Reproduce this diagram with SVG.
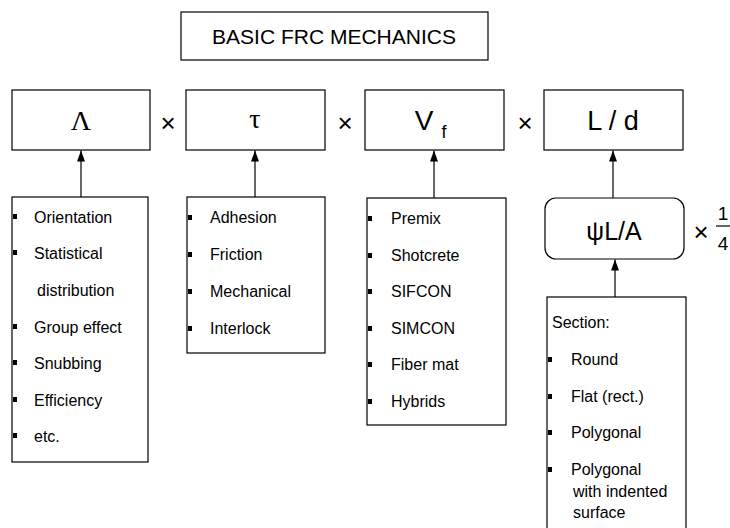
<svg xmlns="http://www.w3.org/2000/svg" width="730" height="528" viewBox="0 0 730 528">
<defs>
<marker id="ah" markerWidth="11" markerHeight="8" refX="11" refY="4" orient="auto" markerUnits="userSpaceOnUse" viewBox="0 0 11 8">
<path d="M0,0 L11,4 L0,8 Z" fill="#000"/>
</marker>
<style>
.box{fill:#fff;stroke:#000;stroke-width:1.2}
.t{font-family:"Liberation Sans",Arial,sans-serif;fill:#000}
.li{font-size:16px}
.big{font-size:27px;text-anchor:middle}
.ser{font-family:"Liberation Serif","Times New Roman",serif;font-size:28px;text-anchor:middle;fill:#000}
.x{font-size:26px;text-anchor:middle}
.b{fill:#000}
.c{stroke:#000;stroke-width:1.2;fill:none}
</style>
</defs>
<rect width="730" height="528" fill="#fff"/>

<g id="title">
<rect class="box" x="181" y="12" width="307" height="48"/>
<text class="t" x="334" y="44" font-size="21" text-anchor="middle">BASIC FRC MECHANICS</text>
</g>

<g id="lambda">
<rect class="box" x="12" y="90" width="138" height="60"/>
<text class="ser" x="81" y="130">Λ</text>
</g>
<g id="tau">
<rect class="box" x="186" y="90" width="139" height="60"/>
<text class="ser" x="255" y="128">τ</text>
</g>
<g id="vf">
<rect class="box" x="365" y="90" width="139" height="60"/>
<text class="t" x="424" y="130" font-size="28" text-anchor="middle">V</text>
<text class="t" x="444" y="138" font-size="18" text-anchor="middle">f</text>
</g>
<g id="ld">
<rect class="box" x="544" y="90" width="139" height="60"/>
<text class="t big" x="613" y="130">L / d</text>
</g>

<g id="ops">
<text class="t x" x="168" y="132">×</text>
<text class="t x" x="345" y="132">×</text>
<text class="t x" x="525" y="132">×</text>
<text class="t x" x="701" y="241">×</text>
<text class="t" x="723" y="220" font-size="19" text-anchor="middle">1</text>
<line x1="716" y1="226" x2="730" y2="226" stroke="#000" stroke-width="1.2"/>
<text class="t" x="723" y="250" font-size="19" text-anchor="middle">4</text>
</g>

<g id="psi">
<rect class="box" x="545" y="198" width="139" height="61" rx="11"/>
<text class="t" x="614" y="240" font-size="25" text-anchor="middle">ψL/A</text>
</g>

<g id="lambda-list">
<rect class="box" x="12" y="197" width="136" height="265"/>
<rect class="b" x="13" y="214" width="4" height="5"/>
<rect class="b" x="13" y="250" width="4" height="5"/>
<rect class="b" x="13" y="324" width="4" height="5"/>
<rect class="b" x="13" y="360" width="4" height="5"/>
<rect class="b" x="13" y="397" width="4" height="5"/>
<rect class="b" x="13" y="433" width="4" height="5"/>
<text class="t li" x="34" y="223">Orientation</text>
<text class="t li" x="34" y="259">Statistical</text>
<text class="t li" x="37" y="296">distribution</text>
<text class="t li" x="34" y="333">Group effect</text>
<text class="t li" x="34" y="369">Snubbing</text>
<text class="t li" x="34" y="406">Efficiency</text>
<text class="t li" x="34" y="442">etc.</text>
</g>

<g id="tau-list">
<rect class="box" x="187" y="197" width="138" height="156"/>
<rect class="b" x="188" y="215" width="4" height="5"/>
<rect class="b" x="188" y="252" width="4" height="5"/>
<rect class="b" x="188" y="289" width="4" height="5"/>
<rect class="b" x="188" y="326" width="4" height="5"/>
<text class="t li" x="210" y="223">Adhesion</text>
<text class="t li" x="210" y="260">Friction</text>
<text class="t li" x="210" y="297">Mechanical</text>
<text class="t li" x="210" y="334">Interlock</text>
</g>

<g id="vf-list">
<rect class="box" x="367" y="198" width="139" height="227"/>
<rect class="b" x="368" y="216" width="4" height="5"/>
<rect class="b" x="368" y="253" width="4" height="5"/>
<rect class="b" x="368" y="289" width="4" height="5"/>
<rect class="b" x="368" y="326" width="4" height="5"/>
<rect class="b" x="368" y="362" width="4" height="5"/>
<rect class="b" x="368" y="399" width="4" height="5"/>
<text class="t li" x="391" y="224">Premix</text>
<text class="t li" x="391" y="261">Shotcrete</text>
<text class="t li" x="391" y="297">SIFCON</text>
<text class="t li" x="391" y="334">SIMCON</text>
<text class="t li" x="391" y="370">Fiber mat</text>
<text class="t li" x="391" y="407">Hybrids</text>
</g>

<g id="section-list">
<rect class="box" x="547" y="297" width="139" height="240"/>
<text class="t li" x="552" y="328">Section:</text>
<rect class="b" x="548" y="357" width="4" height="5"/>
<rect class="b" x="548" y="394" width="4" height="5"/>
<rect class="b" x="548" y="430" width="4" height="5"/>
<rect class="b" x="548" y="467" width="4" height="5"/>
<text class="t li" x="571" y="365">Round</text>
<text class="t li" x="571" y="402">Flat (rect.)</text>
<text class="t li" x="571" y="438">Polygonal</text>
<text class="t li" x="571" y="475">Polygonal</text>
<text class="t li" x="573" y="497">with indented</text>
<text class="t li" x="573" y="518">surface</text>
</g>

<g id="connectors">
<line class="c" x1="81" y1="197" x2="81" y2="150.5" marker-end="url(#ah)"/>
<line class="c" x1="255" y1="197" x2="255" y2="150.5" marker-end="url(#ah)"/>
<line class="c" x1="434" y1="198" x2="434" y2="150.5" marker-end="url(#ah)"/>
<line class="c" x1="613" y1="198" x2="613" y2="150.5" marker-end="url(#ah)"/>
<line class="c" x1="615" y1="297" x2="615" y2="259.5" marker-end="url(#ah)"/>
</g>
</svg>
